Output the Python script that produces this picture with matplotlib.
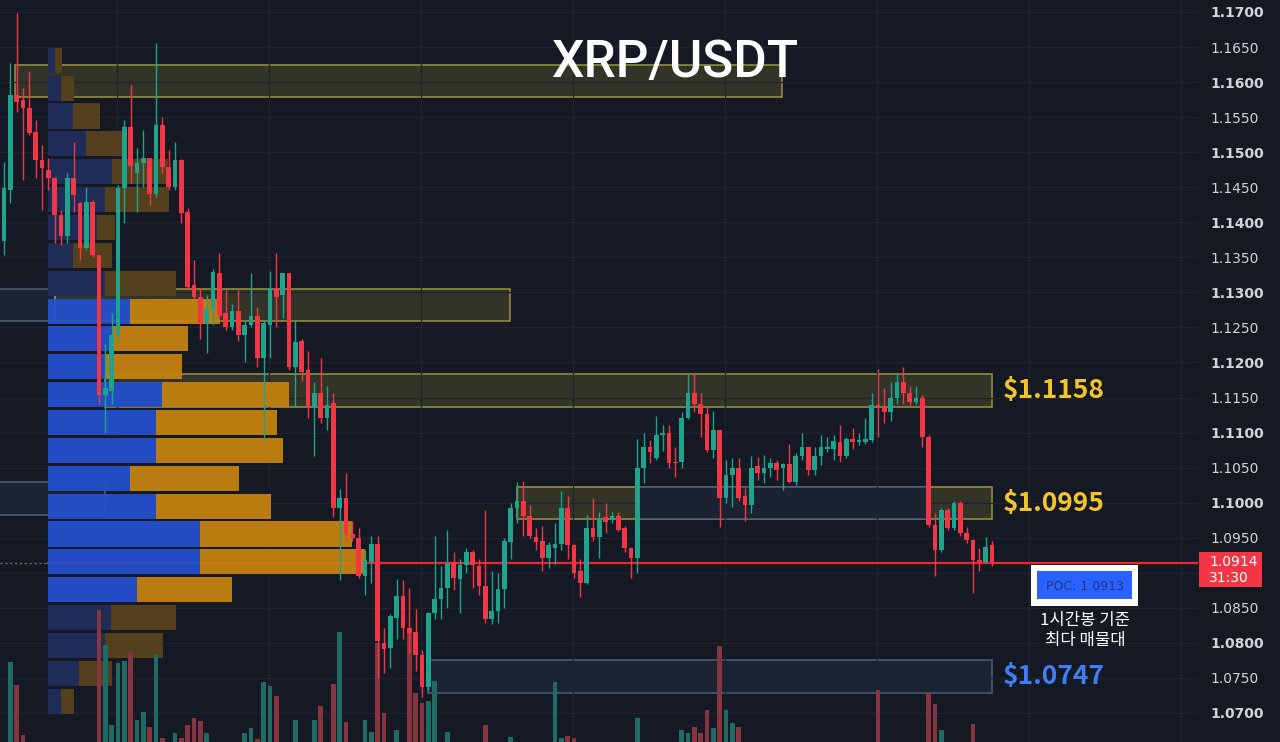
import matplotlib
matplotlib.use("Agg")
import matplotlib.pyplot as plt
from matplotlib.patches import Rectangle
import numpy as np

plt.rcParams['font.family'] = ['Noto Sans CJK KR', 'DejaVu Sans']

# ---------------- data (1h candles, XRP/USDT) ----------------
opens = [1.1374, 1.1446, 1.1581, 1.1574, 1.1563, 1.1529, 1.1489, 1.1474, 1.1463, 1.1410,
         1.1381, 1.1463, 1.1427, 1.1363, 1.1429, 1.1353, 1.1153, 1.1160, 1.1239, 1.1449,
         1.1536, 1.1470, 1.1484, 1.1491, 1.1441, 1.1539, 1.1479, 1.1450, 1.1489, 1.1414,
         1.1310, 1.1293, 1.1256, 1.1277, 1.1327, 1.1270, 1.1250, 1.1274, 1.1239, 1.1253,
         1.1267, 1.1207, 1.1253, 1.1306, 1.1296, 1.1327, 1.1193, 1.1231, 1.1189, 1.1136,
         1.1156, 1.1121, 1.1142, 1.0992, 1.1006, 1.0956, 1.0949, 1.0896, 1.0916, 1.0941,
         1.0800, 1.0793, 1.0836, 1.0867, 1.0821, 1.0816, 1.0783, 1.0737, 1.0843, 1.0863,
         1.0879, 1.0916, 1.0891, 1.0911, 1.0930, 1.0909, 1.0881, 1.0834, 1.0846, 1.0877,
         1.0944, 1.0993, 1.1003, 1.0981, 1.0951, 1.0946, 1.0921, 1.0936, 1.0941, 1.0993,
         1.0939, 1.0903, 1.0886, 1.0964, 1.0951, 1.0979, 1.0976, 1.0981, 1.0964, 1.0936,
         1.0921, 1.1050, 1.1079, 1.1064, 1.1096, 1.1099, 1.1058, 1.1058, 1.1121, 1.1156,
         1.1141, 1.1127, 1.1075, 1.1103, 1.1007, 1.1039, 1.1050, 1.1010, 1.0996, 1.1052,
         1.1042, 1.1049, 1.1056, 1.1049, 1.1055, 1.1030, 1.1066, 1.1079, 1.1047, 1.1067,
         1.1077, 1.1077, 1.1086, 1.1066, 1.1091, 1.1086, 1.1086, 1.1089, 1.1139, 1.1136,
         1.1129, 1.1150, 1.1172, 1.1156, 1.1143, 1.1150, 1.1094, 1.0968, 1.0933, 1.0990,
         1.0964, 1.1000, 1.0957, 1.0947, 1.0918, 1.0916, 1.0939]
highs = [1.1486, 1.1627, 1.1699, 1.1591, 1.1616, 1.1546, 1.1510, 1.1491, 1.1465, 1.1417,
         1.1471, 1.1514, 1.1429, 1.1450, 1.1432, 1.1354, 1.1227, 1.1270, 1.1453, 1.1546,
         1.1596, 1.1506, 1.1531, 1.1492, 1.1656, 1.1550, 1.1503, 1.1514, 1.1490, 1.1421,
         1.1346, 1.1306, 1.1296, 1.1334, 1.1356, 1.1303, 1.1284, 1.1303, 1.1260, 1.1327,
         1.1279, 1.1260, 1.1331, 1.1356, 1.1328, 1.1328, 1.1260, 1.1234, 1.1217, 1.1172,
         1.1207, 1.1167, 1.1157, 1.1020, 1.1043, 1.0974, 1.0964, 1.0933, 1.0953, 1.0953,
         1.0821, 1.0841, 1.0891, 1.0889, 1.0879, 1.0849, 1.0790, 1.0844, 1.0953, 1.0910,
         1.0961, 1.0930, 1.0919, 1.0936, 1.0933, 1.0919, 1.0989, 1.0903, 1.0899, 1.0949,
         1.1000, 1.1029, 1.1031, 1.0996, 1.0964, 1.0967, 1.0944, 1.0971, 1.1017, 1.1010,
         1.0941, 1.0919, 1.0983, 1.1007, 1.0987, 1.0999, 1.0987, 1.0987, 1.0967, 1.0937,
         1.1091, 1.1099, 1.1089, 1.1124, 1.1111, 1.1111, 1.1079, 1.1129, 1.1184, 1.1184,
         1.1157, 1.1136, 1.1131, 1.1104, 1.1061, 1.1064, 1.1064, 1.1021, 1.1067, 1.1065,
         1.1068, 1.1064, 1.1061, 1.1057, 1.1083, 1.1071, 1.1099, 1.1080, 1.1079, 1.1096,
         1.1094, 1.1096, 1.1111, 1.1093, 1.1106, 1.1099, 1.1121, 1.1156, 1.1191, 1.1164,
         1.1172, 1.1182, 1.1193, 1.1167, 1.1167, 1.1153, 1.1097, 1.0985, 1.0993, 1.0993,
         1.1003, 1.1003, 1.0966, 1.0948, 1.0936, 1.0951, 1.0946]
lows = [1.1353, 1.1427, 1.1557, 1.1460, 1.1524, 1.1463, 1.1417, 1.1446, 1.1370, 1.1367,
        1.1370, 1.1414, 1.1346, 1.1360, 1.1351, 1.1141, 1.1099, 1.1141, 1.1231, 1.1399,
        1.1456, 1.1414, 1.1450, 1.1424, 1.1436, 1.1471, 1.1446, 1.1446, 1.1399, 1.1303,
        1.1291, 1.1234, 1.1214, 1.1253, 1.1264, 1.1246, 1.1246, 1.1231, 1.1200, 1.1250,
        1.1193, 1.1091, 1.1207, 1.1250, 1.1264, 1.1189, 1.1136, 1.1174, 1.1121, 1.1067,
        1.1114, 1.1103, 1.0979, 1.0890, 1.0946, 1.0946, 1.0893, 1.0869, 1.0886, 1.0750,
        1.0757, 1.0764, 1.0806, 1.0806, 1.0786, 1.0760, 1.0723, 1.0733, 1.0834, 1.0834,
        1.0850, 1.0876, 1.0843, 1.0899, 1.0879, 1.0869, 1.0829, 1.0827, 1.0829, 1.0850,
        1.0919, 1.0971, 1.0953, 1.0949, 1.0933, 1.0903, 1.0907, 1.0913, 1.0933, 1.0919,
        1.0893, 1.0866, 1.0884, 1.0946, 1.0921, 1.0957, 1.0971, 1.0959, 1.0930, 1.0893,
        1.0900, 1.1028, 1.1056, 1.1061, 1.1074, 1.1050, 1.1036, 1.1049, 1.1120, 1.1129,
        1.1094, 1.1072, 1.1064, 1.0965, 1.0999, 1.0994, 1.1003, 1.0974, 1.0985, 1.1033,
        1.1028, 1.1036, 1.1033, 1.1018, 1.1028, 1.1025, 1.1061, 1.1040, 1.1040, 1.1054,
        1.1072, 1.1061, 1.1058, 1.1064, 1.1077, 1.1082, 1.1084, 1.1086, 1.1094, 1.1114,
        1.1117, 1.1141, 1.1141, 1.1139, 1.1141, 1.1079, 1.0965, 1.0896, 1.0930, 1.0961,
        1.0961, 1.0953, 1.0943, 1.0871, 1.0903, 1.0914, 1.0909]
closes = [1.1449, 1.1581, 1.1571, 1.1563, 1.1527, 1.1489, 1.1477, 1.1463, 1.1410, 1.1381,
          1.1463, 1.1439, 1.1363, 1.1429, 1.1353, 1.1153, 1.1163, 1.1239, 1.1449, 1.1536,
          1.1481, 1.1484, 1.1491, 1.1441, 1.1539, 1.1479, 1.1450, 1.1489, 1.1413, 1.1307,
          1.1293, 1.1256, 1.1277, 1.1329, 1.1267, 1.1250, 1.1274, 1.1239, 1.1253, 1.1267,
          1.1207, 1.1256, 1.1306, 1.1293, 1.1327, 1.1194, 1.1229, 1.1186, 1.1136, 1.1156,
          1.1121, 1.1139, 1.0992, 1.1006, 1.0956, 1.0949, 1.0896, 1.0918, 1.0941, 1.0803,
          1.0791, 1.0839, 1.0867, 1.0821, 1.0814, 1.0783, 1.0737, 1.0843, 1.0863, 1.0879,
          1.0914, 1.0893, 1.0911, 1.0930, 1.0911, 1.0881, 1.0834, 1.0846, 1.0877, 1.0946,
          1.0993, 1.1003, 1.0981, 1.0953, 1.0944, 1.0921, 1.0939, 1.0941, 1.0993, 1.0939,
          1.0900, 1.0886, 1.0964, 1.0951, 1.0976, 1.0973, 1.0981, 1.0961, 1.0936, 1.0921,
          1.1050, 1.1079, 1.1072, 1.1096, 1.1099, 1.1056, 1.1056, 1.1121, 1.1157, 1.1141,
          1.1127, 1.1075, 1.1103, 1.1007, 1.1039, 1.1050, 1.1007, 1.0996, 1.1050, 1.1042,
          1.1050, 1.1056, 1.1046, 1.1055, 1.1030, 1.1066, 1.1079, 1.1047, 1.1067, 1.1079,
          1.1080, 1.1088, 1.1066, 1.1091, 1.1086, 1.1089, 1.1091, 1.1139, 1.1135, 1.1129,
          1.1150, 1.1172, 1.1156, 1.1143, 1.1150, 1.1094, 1.0968, 1.0933, 1.0990, 1.0964,
          1.0999, 1.0957, 1.0947, 1.0918, 1.0916, 1.0937, 1.0914]
volumes = [2.2, 6.4, 5.25, 2.75, 2.1, 1.9, 2.0, 1.7, 2.2, 1.8,
           2.1, 1.9, 2.0, 1.8, 2.2, 9.0, 7.25, 3.25, 6.35, 6.45,
           6.9, 3.5, 3.9, 3.15, 6.8, 2.6, 2.2, 2.85, 2.6, 3.25,
           3.6, 3.45, 2.85, 2.1, 2.2, 1.9, 1.7, 2.0, 2.85, 3.1,
           2.55, 5.4, 5.2, 4.7, 2.0, 2.3, 3.5, 2.1, 2.2, 3.5,
           4.2, 2.0, 5.3, 7.9, 3.4, 2.2, 2.3, 3.5, 2.9, 7.35,
           3.85, 2.3, 3.0, 2.2, 8.0, 4.85, 4.35, 4.45, 5.45, 2.2,
           2.9, 2.0, 1.8, 2.1, 1.9, 2.2, 3.25, 2.1, 2.0, 2.3,
           2.65, 1.9, 2.0, 1.8, 2.1, 2.2, 1.9, 5.4, 2.6, 2.7,
           2.6, 2.0, 2.2, 1.8, 2.1, 1.9, 1.7, 1.8, 2.0, 2.1,
           3.6, 2.2, 1.9, 2.0, 1.8, 2.1, 1.9, 3.0, 2.85, 3.15,
           2.85, 4.0, 3.1, 7.2, 4.0, 3.35, 3.15, 2.0, 2.2, 1.9,
           2.1, 1.8, 2.0, 2.2, 1.9, 2.1, 2.0, 1.8, 2.2, 1.9,
           2.0, 2.1, 1.8, 2.0, 2.2, 1.9, 2.1, 2.0, 5.0, 2.2,
           2.1, 1.9, 2.0, 2.2, 1.8, 2.1, 4.85, 4.3, 3.0, 2.2,
           2.0, 2.1, 1.9, 3.3, 2.0, 2.1, 1.9]

# volume profile (24 rows from top), buy / sell volume
profile_top = 1.1651
profile_row = 0.003975
profile_buy = [0.7, 1.3, 2.5, 3.8, 6.4, 5.7, 4.9, 2.5, 5.7, 8.2, 6.4, 5.7,
               11.4, 10.8, 10.8, 8.2, 10.8, 15.2, 15.2, 8.9, 6.3, 5.7, 3.1, 1.3]
profile_sell = [0.7, 1.3, 2.7, 3.6, 5.6, 6.4, 1.8, 3.9, 7.1, 9.0, 7.6, 7.7,
                12.7, 12.1, 12.7, 10.9, 11.5, 15.2, 16.5, 9.5, 6.5, 5.8, 3.3, 1.3]
value_area_rows = range(9, 20)

last_price = 1.0914
poc_price = 1.0913
price_ticks = [1.0700 + 0.005 * k for k in range(21)]

# zones: (x0, x1, low, high, kind)
zones = [(1.7, 122.8, 1.1579, 1.1625, 'y'),
         (-1.0, 8.0, 1.1259, 1.1305, 'b'),
         (8.0, 79.9, 1.1259, 1.1305, 'y'),
         (16.0, 156.0, 1.1137, 1.1184, 'y'),
         (-1.0, 16.0, 1.0983, 1.1030, 'b'),
         (81.0, 156.0, 1.0977, 1.1022, 'y'),
         (100.0, 145.7, 1.0977, 1.1022, 'bo'),
         (67.0, 156.0, 1.0729, 1.0776, 'b')]

# ---------------- style ----------------
BG = '#151924'
GRID = '#1f2330'
UP = '#1fa38c'
DN = '#f23645'
VUP = '#1f6a62'
VDN = '#86343f'

W, H = 1280, 742
fig = plt.figure(figsize=(W / 100, H / 100), dpi=100, facecolor=BG)
pos = [0, 0, 1198 / W, 1]
XL = (-0.632, 188.53)
YL = (1.06586, 1.17171)

ax_bg = fig.add_axes(pos, zorder=0)
ax_prof = fig.add_axes(pos, zorder=1)
ax_vol = fig.add_axes(pos, zorder=2)
ax = fig.add_axes(pos, zorder=3)

for a in (ax_bg, ax_prof, ax_vol, ax):
    for s in a.spines.values():
        s.set_visible(False)
ax_bg.set_facecolor(BG)
for a in (ax_prof, ax_vol, ax):
    a.patch.set_alpha(0)

# background: grid, zones, last price line
ax_bg.set_xlim(*XL)
ax_bg.set_ylim(*YL)
ax_bg.set_xticks([])
ax_bg.set_yticks([])
for p in price_ticks:
    ax_bg.axhline(p, color=GRID, lw=0.9)
for xv in np.arange(17.8, 189, 24):
    ax_bg.axvline(xv, color=GRID, lw=0.9)

for x0, x1, lo, hi, kind in zones:
    if kind == 'y':
        fc, ec, al = (0.85, 0.82, 0.25), '#9a9440', 0.15
    elif kind == 'bo':
        fc, ec, al = '#1b2231', '#4d5d7a', 1.0
    else:
        fc, ec, al = (0.25, 0.35, 0.5), '#4d5d7a', 0.18
    ax_bg.add_patch(Rectangle((x0, lo), x1 - x0, hi - lo, facecolor=fc, alpha=al,
                              edgecolor='none'))
    ax_bg.add_patch(Rectangle((x0, lo), x1 - x0, hi - lo, facecolor='none',
                              edgecolor=ec, lw=1.1))

ax_bg.plot([XL[0], 6.95], [last_price, last_price], color='#6b7080', lw=1, ls=(0, (1.5, 2)))
ax_bg.plot([6.95, XL[1]], [last_price, last_price], color='#f0232f', lw=1.6)

# volume profile
ax_prof.set_xlim(-4.8, 115)
ax_prof.set_ylim(*YL)
ax_prof.axis('off')
for k in range(len(profile_buy)):
    yc = profile_top - (k + 0.5) * profile_row
    inva = k in value_area_rows
    cb = '#2551cf' if inva else '#1f2c57'
    co = '#c8830f' if inva else '#54401c'
    al = 0.93 if inva else 1.0
    ax_prof.barh(yc, profile_buy[k], height=profile_row * 0.9, left=0, color=cb, alpha=al)
    ax_prof.barh(yc, profile_sell[k], height=profile_row * 0.9, left=profile_buy[k],
                 color=co, alpha=al)

# volume bars
idx = np.arange(len(opens))
up = np.array(closes) >= np.array(opens)
ax_vol.set_xlim(*XL)
ax_vol.set_ylim(2.4, 39.5)
ax_vol.axis('off')
ax_vol.bar(idx, volumes, width=0.72, color=[VUP if u else VDN for u in up], bottom=0)

# candles
ax.set_xlim(*XL)
ax.set_ylim(*YL)
o = np.array(opens); c = np.array(closes)
cols = [UP if u else DN for u in up]
ax.vlines(idx, lows, highs, colors=cols, lw=1.0, zorder=3)
body_lo = np.minimum(o, c)
body_h = np.maximum(np.abs(c - o), 0.00012)
ax.bar(idx, body_h, bottom=body_lo, width=0.72, color=cols, zorder=4)

ax.set_xticks([])
ax.yaxis.tick_right()
ax.set_yticks(price_ticks)
# the 1.0900 label sits under the live price tag
ax.set_yticklabels(['' if abs(p - 1.09) < 1e-9 else f'{p:.4f}' for p in price_ticks])
ax.tick_params(axis='y', length=0, pad=8.6, labelsize=10, colors='#d1d4dc')
for lab, p in zip(ax.get_yticklabels(), price_ticks):
    lab.set_family('DejaVu Sans')
    if round(p * 10000) % 100 == 0:
        lab.set_fontweight('bold')

# title
fig.text(676 / W, 1 - 63 / H, 'XRP/USDT', ha='center', va='center', fontsize=37,
         color='white', family=['Roboto', 'DejaVu Sans'], fontweight='medium')

# zone labels
def ytxt(price):
    return (price - YL[0]) / (YL[1] - YL[0])

for txt, pr, col in [('$1.1158', 1.11605, '#f5c42c'),
                     ('$1.0995', 1.09995, '#f5c42c'),
                     ('$1.0747', 1.07525, '#3f7ff2')]:
    fig.text(1003 / W, ytxt(pr), txt, ha='left', va='center', fontsize=19,
             color=col, fontweight='bold')

# price tag
fig.patches.append(Rectangle((1199 / W, 1 - 587 / H), 63 / W, 35 / H, transform=fig.transFigure,
                             facecolor='#f23645', edgecolor='none', zorder=10))
fig.text(1209 / W, 1 - 562 / H, f'{last_price:.4f}', ha='left', va='center', fontsize=10,
         color='white', family='DejaVu Sans', zorder=11)
fig.text(1209 / W, 1 - 578 / H, '31:30', ha='left', va='center', fontsize=10,
         color='white', family='DejaVu Sans', zorder=11)

# POC box
fig.patches.append(Rectangle((1031 / W, 1 - 606 / H), 107 / W, 41 / H, transform=fig.transFigure,
                             facecolor='white', edgecolor='none', zorder=10))
fig.patches.append(Rectangle((1037 / W, 1 - 599 / H), 95 / W, 28 / H, transform=fig.transFigure,
                             facecolor='#2962ff', edgecolor='none', zorder=11))
fig.text(1085 / W, 1 - 587 / H, f'POC: {poc_price:.4f}', ha='center', va='center', fontsize=9,
         color='#22357a', family='DejaVu Sans', zorder=12)
fig.text(1085 / W, 1 - 620 / H, '1시간봉 기준', ha='center', va='center', fontsize=12,
         color='white', zorder=12, fontweight='medium')
fig.text(1085 / W, 1 - 640 / H, '최다 매물대', ha='center', va='center', fontsize=12,
         color='white', zorder=12, fontweight='medium')

fig.savefig('out.png', dpi=100, facecolor=BG)
